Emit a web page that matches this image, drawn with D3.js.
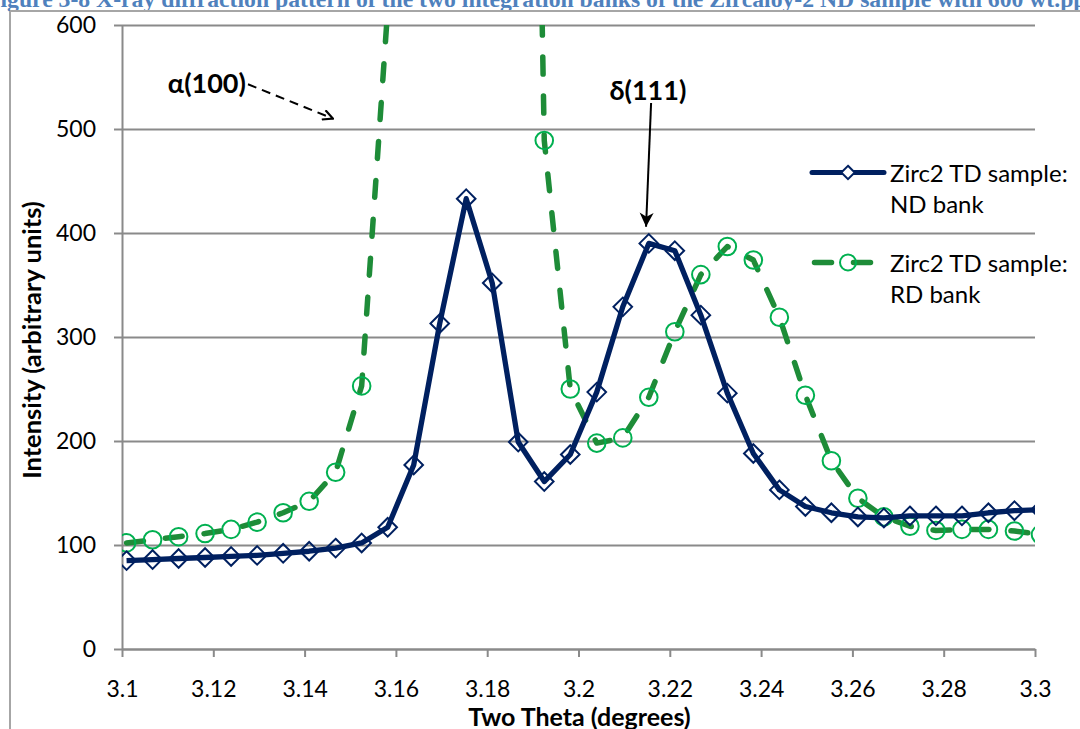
<!DOCTYPE html>
<html><head><meta charset="utf-8">
<script src="https://cdn.jsdelivr.net/npm/d3@7"></script>
<style>body{margin:0;background:#fff;overflow:hidden} svg{display:block}</style>
</head><body>
<svg id="c" width="1080" height="729"></svg>
<script>
// ---- data ----
const twoTheta = [3.1010,3.1067,3.1124,3.1182,3.1239,3.1296,3.1353,3.1410,3.1468,3.1525,
  3.1582,3.1639,3.1696,3.1754,3.1811,3.1868,3.1925,3.1982,3.2040,3.2097,
  3.2154,3.2211,3.2268,3.2326,3.2383,3.2440,3.2497,3.2554,3.2612,3.2669,
  3.2726,3.2783,3.2840,3.2898,3.2955,3.3012];
const ndBank = [85,86,87,88,89,90,92,94,97,102,
  117,177,313,433,352,199,161,187,247,329,
  390,383,321,246,188,153,137,131,127,126,
  128,128,128,131,133,134];
const rdBank = [102,105,108,111,115,122,131,142,170,253,
  615,1500,2800,3200,2900,1900,489,250,198,203,
  242,305,360,387,374,319,244,181,145,127,
  118,114,115,115,113.5,110];
const xTicks = [3.1,3.12,3.14,3.16,3.18,3.2,3.22,3.24,3.26,3.28,3.3];
const xTickLabels = ["3.1","3.12","3.14","3.16","3.18","3.2","3.22","3.24","3.26","3.28","3.3"];
const yTicks = [0,100,200,300,400,500,600];
const seriesLabels = [["Zirc2 TD sample:","ND bank"],["Zirc2 TD sample:","RD bank"]];
const annotations = [
  {text:"α(100)", lx:3.1186, ly:535, x1:3.1276, y1:543, x2:3.1462, y2:510, dashed:true},
  {text:"δ(111)", lx:3.2152, ly:528, x1:3.2159, y1:525, x2:3.2148, y2:406, dashed:false}
];
const titleText = "Figure 3-8 X-ray diffraction pattern of the two integration banks of the Zircaloy-2 ND sample with 600 wt.ppm hydrogen";

// ---- layout ----
const L = 122, R = 1035, T = 25, B = 649;
const FONT = "Lato, 'Open Sans', sans-serif";
const blue = "#002060", greenLine = "#1e8c38", greenMark = "#00b050", grid = "#8a8a8a";

const svg = d3.select("#c");
const x = d3.scaleLinear().domain([3.1, 3.3]).range([L, R]);
const y = d3.scaleLinear().domain([0, 600]).range([B, T]);

// caption (cut off at top, as in the source)
svg.append("text").attr("x", -14).attr("y", 7)
  .attr("font-family", "'Liberation Serif', 'Times New Roman', serif")
  .attr("font-weight", "bold").attr("font-size", 23.7).attr("fill", "#4f81bd")
  .text(titleText);

// chart frame
svg.append("line").attr("x1", 10).attr("x2", 1080).attr("y1", 11).attr("y2", 11)
  .attr("stroke", "#a6a6a6").attr("stroke-width", 2);
svg.append("line").attr("x1", 10).attr("x2", 10).attr("y1", 11).attr("y2", 729)
  .attr("stroke", "#a6a6a6").attr("stroke-width", 2);

// gridlines
svg.append("g").attr("transform", `translate(${L},0)`)
  .call(d3.axisLeft(y).tickValues(yTicks).tickSize(-(R - L)).tickFormat(""))
  .call(g => g.select(".domain").remove())
  .call(g => g.selectAll("line").attr("stroke", grid).attr("stroke-width", 2));

// y axis
const ya = svg.append("g").attr("transform", `translate(${L},0)`)
  .call(d3.axisLeft(y).tickValues(yTicks).tickSize(8).tickPadding(18).tickSizeOuter(0));
ya.select(".domain").attr("stroke", grid).attr("stroke-width", 2);
ya.selectAll("line").attr("stroke", grid).attr("stroke-width", 2);
ya.selectAll("text").attr("font-family", FONT).attr("font-size", 23).attr("fill", "#000");

// x axis
const xa = svg.append("g").attr("transform", `translate(0,${B})`)
  .call(d3.axisBottom(x).tickValues(xTicks).tickSize(8).tickPadding(24).tickSizeOuter(0)
    .tickFormat((d, i) => xTickLabels[i]));
xa.select(".domain").attr("stroke", grid).attr("stroke-width", 2);
xa.selectAll("line").attr("stroke", grid).attr("stroke-width", 2);
xa.selectAll("text").attr("font-family", FONT).attr("font-size", 23).attr("fill", "#000");

// axis titles
svg.append("text").attr("transform", "translate(41,340) rotate(-90)")
  .attr("text-anchor", "middle").attr("font-family", FONT).attr("font-weight", "bold")
  .attr("font-size", 25.5).text("Intensity (arbitrary units)");
svg.append("text").attr("x", (L + R) / 2 + 1).attr("y", 726).attr("text-anchor", "middle")
  .attr("font-family", FONT).attr("font-weight", "bold").attr("font-size", 25)
  .text("Two Theta (degrees)");

// clip
svg.append("clipPath").attr("id", "plot").append("rect")
  .attr("x", L).attr("y", T).attr("width", R - L).attr("height", B - T);
const plot = svg.append("g").attr("clip-path", "url(#plot)");

const nd = twoTheta.map((t, i) => [t, ndBank[i]]);
const rd = twoTheta.map((t, i) => [t, rdBank[i]]);
const line = d3.line().x(d => x(d[0])).y(d => y(d[1]));

const diamond = r => `M0,${-r}L${r},0L0,${r}L${-r},0Z`;

// RD series (green dashed)
plot.append("path").datum(rd).attr("d", line).attr("fill", "none")
  .attr("stroke", greenLine).attr("stroke-width", 5.5).attr("stroke-dasharray", "17 22")
  .attr("stroke-linecap", "round").attr("stroke-linejoin", "round");
plot.selectAll("circle.rd").data(rd).join("circle").attr("class", "rd")
  .attr("cx", d => x(d[0])).attr("cy", d => y(d[1])).attr("r", 8.8)
  .attr("fill", "none").attr("stroke", greenMark).attr("stroke-width", 2);

// ND series (blue solid)
plot.append("path").datum(nd).attr("d", line).attr("fill", "none")
  .attr("stroke", blue).attr("stroke-width", 5.3).attr("stroke-linejoin", "round");
plot.selectAll("path.nd").data(nd).join("path").attr("class", "nd")
  .attr("transform", d => `translate(${x(d[0])},${y(d[1])})`).attr("d", diamond(9.3))
  .attr("fill", "none").attr("stroke", blue).attr("stroke-width", 2);

// legend
const lg = svg.append("g");
const legY = [172.5, 262.5];
lg.append("line").attr("x1", 812).attr("x2", 884).attr("y1", legY[0]).attr("y2", legY[0])
  .attr("stroke", blue).attr("stroke-width", 5).attr("stroke-linecap", "round");
lg.append("path").attr("transform", `translate(848,${legY[0]})`).attr("d", diamond(6.7))
  .attr("fill", "#fff").attr("stroke", blue).attr("stroke-width", 2);
lg.append("line").attr("x1", 814.5).attr("x2", 872).attr("y1", legY[1]).attr("y2", legY[1])
  .attr("stroke", greenLine).attr("stroke-width", 5.5).attr("stroke-dasharray", "17 22")
  .attr("stroke-linecap", "round");
lg.append("circle").attr("cx", 848).attr("cy", legY[1]).attr("r", 8)
  .attr("fill", "none").attr("stroke", greenMark).attr("stroke-width", 2);
seriesLabels.forEach((lines, i) => {
  const t = lg.append("text").attr("font-family", FONT).attr("font-size", 24).attr("fill", "#000");
  lines.forEach((s, j) => t.append("tspan").attr("x", 890).attr("y", legY[i] + 9 + j * 31).text(s));
});

// annotations
const defs = svg.append("defs");
defs.append("marker").attr("id", "arr").attr("viewBox", "0 0 12 12").attr("refX", 11).attr("refY", 6)
  .attr("markerWidth", 12).attr("markerHeight", 12).attr("markerUnits", "userSpaceOnUse")
  .attr("orient", "auto")
  .append("path").attr("d", "M1,1L11,6L1,11").attr("fill", "none").attr("stroke", "#000")
  .attr("stroke-width", 2.2);
defs.append("marker").attr("id", "arr2").attr("viewBox", "0 0 16 16").attr("refX", 15).attr("refY", 8)
  .attr("markerWidth", 16).attr("markerHeight", 16).attr("markerUnits", "userSpaceOnUse")
  .attr("orient", "auto")
  .append("path").attr("d", "M1,1L15,8L1,15L5,8Z").attr("fill", "#000");
annotations.forEach(a => {
  svg.append("line").attr("x1", x(a.x1)).attr("y1", y(a.y1)).attr("x2", x(a.x2)).attr("y2", y(a.y2))
    .attr("stroke", "#000").attr("stroke-width", 2)
    .attr("stroke-dasharray", a.dashed ? "9 6" : null)
    .attr("marker-end", a.dashed ? "url(#arr)" : "url(#arr2)");
  svg.append("text").attr("x", x(a.lx)).attr("y", y(a.ly)).attr("text-anchor", "middle")
    .attr("font-family", FONT).attr("font-weight", "bold").attr("font-size", 27).text(a.text);
});
</script>
</body></html>
